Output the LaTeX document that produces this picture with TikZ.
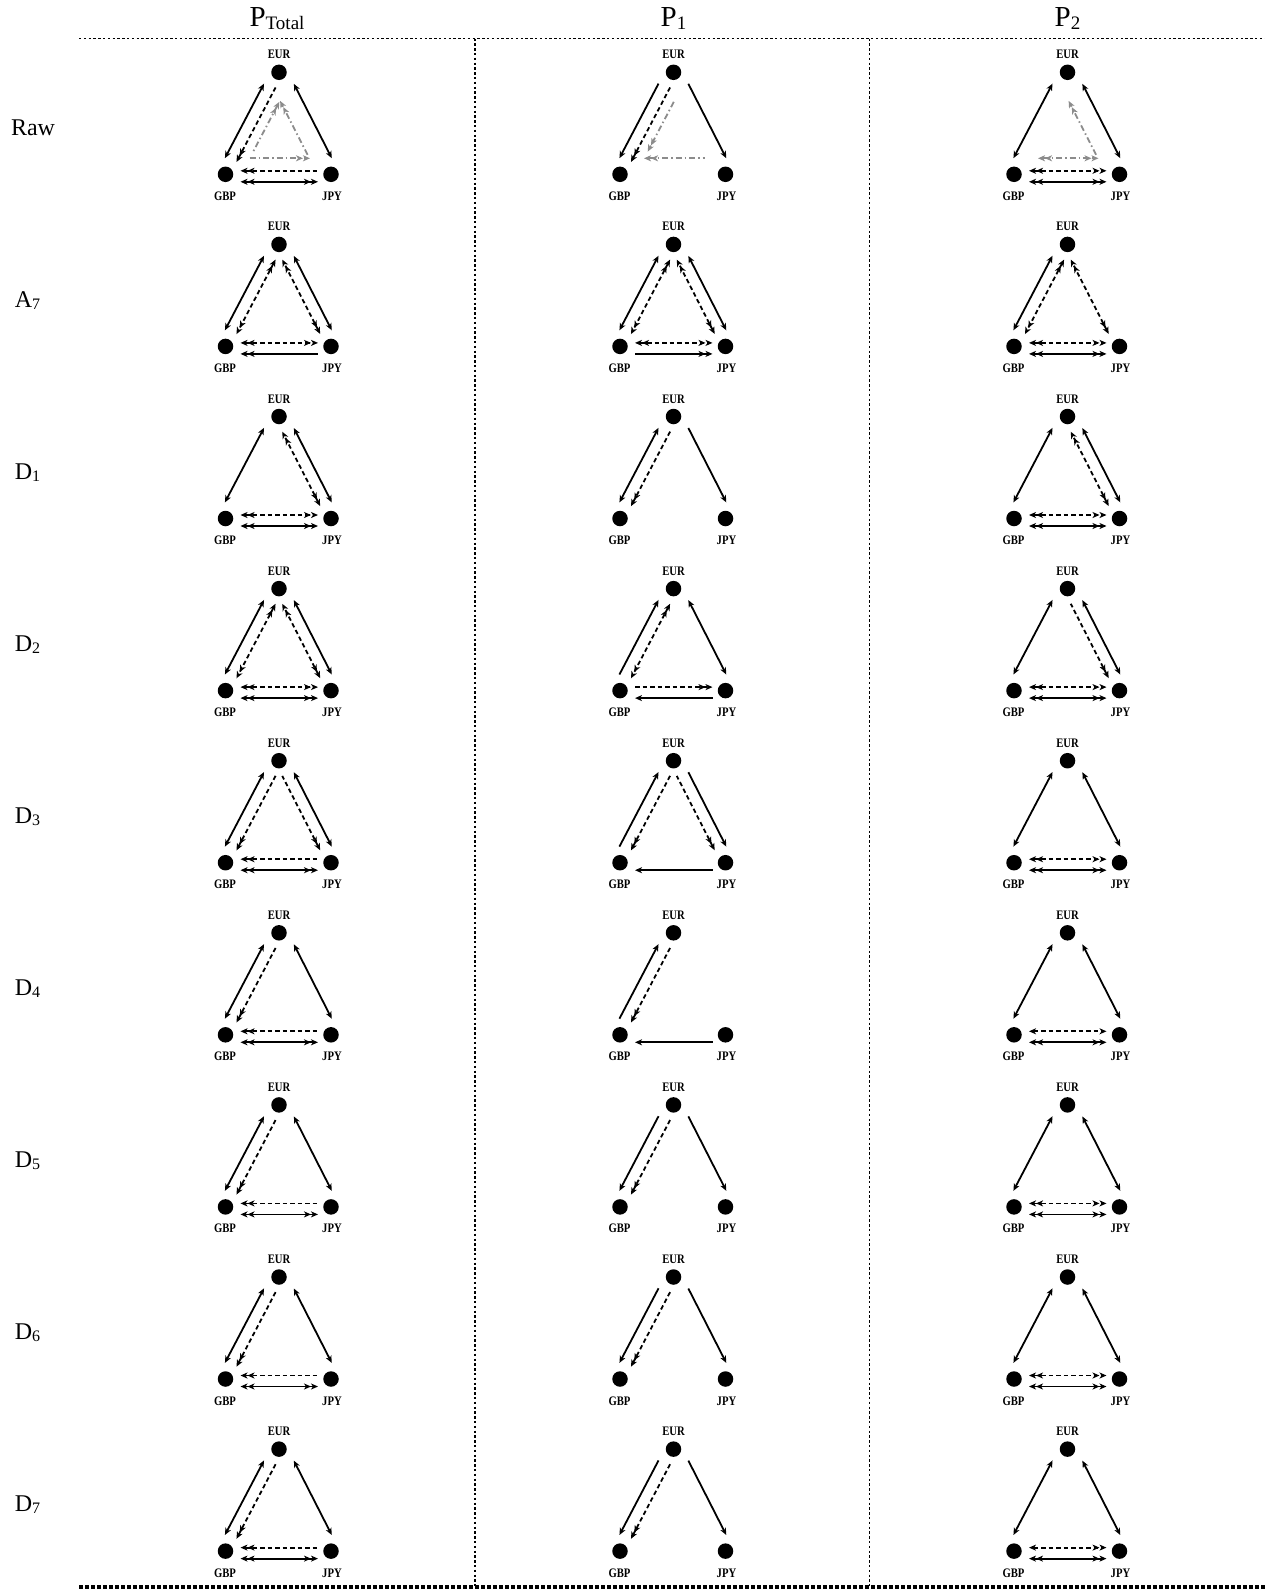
\documentclass[tikz,border=0pt]{standalone}
\usepackage{graphicx}
\usepackage{fontspec}
\setmainfont{Liberation Serif}
\usetikzlibrary{calc,arrows.meta}
\newcommand\cn[1]{\scalebox{0.82}[1]{#1}}
\newcommand\rsub[1]{\raisebox{-2pt}{\fontsize{16}{16}\selectfont #1}}
\newcommand\hsub[1]{\raisebox{-3pt}{\fontsize{19}{19}\selectfont #1}}
\tikzset{
  x=1pt,y=-1pt,
  cur/.style={circle,fill=black,inner sep=0pt,minimum size=15.5pt},
  lab/.style={inner sep=0pt,anchor=base,font=\bfseries\fontsize{13}{13}\selectfont},
  rowlab/.style={inner sep=0pt,anchor=base,font=\fontsize{24}{26}\selectfont},
  hdr/.style={inner sep=0pt,anchor=base,font=\fontsize{29}{31}\selectfont},
  sol/.style={line width=1.8pt},
  dsh/.style={line width=1.8pt,dash pattern=on 4.5pt off 3pt},
  gry/.style={line width=1.8pt,color=black!45,dash pattern=on 6pt off 3pt on 1.5pt off 3pt},
  divline/.style={line width=1.3pt,dash pattern=on 2.4pt off 2.4pt},
  divbold/.style={line width=3.4pt,dash pattern=on 3.5pt off 2.5pt},
  >={Stealth[length=7pt,width=6pt,inset=2pt]},
}
\newcommand\panel[3]{%
  \node[cur] (E#1) at (#2,#3) {};
  \node[cur] (G#1) at ({#2-53.5},{#3+102}) {};
  \node[cur] (J#1) at ({#2+52},{#3+102}) {};
  \node[lab] (tE#1) at ({#2},{#3-13.5}) {\cn{EUR}};
  \node[lab] (tG#1) at ({#2-54},{#3+128}) {\cn{GBP}};
  \node[lab] (tJ#1) at ({#2+53},{#3+128}) {\cn{JPY}};
}
\newcommand\Lsol[2]{\draw[sol,#2] ($(E#1)!17pt!(G#1)!8pt!-90:(G#1)$) -- ($(G#1)!14pt!(E#1)!8pt!90:(E#1)$);}
\newcommand\Ldsh[2]{\draw[dsh,#2] ($(E#1)!15pt!(G#1)!4pt!90:(G#1)$) -- ($(G#1)!16pt!(E#1)!4pt!-90:(E#1)$);}
\newcommand\Lgry[2]{\draw[gry,#2] ($(E#1)!26pt!(G#1)!14pt!90:(G#1)$) -- ($(G#1)!33pt!(E#1)!14pt!-90:(E#1)$);}
\newcommand\Rsol[2]{\draw[sol,#2] ($(J#1)!14pt!(E#1)!8pt!-90:(E#1)$) -- ($(E#1)!17pt!(J#1)!8pt!90:(J#1)$);}
\newcommand\Rdsh[2]{\draw[dsh,#2] ($(J#1)!16pt!(E#1)!4pt!90:(E#1)$) -- ($(E#1)!15pt!(J#1)!4pt!-90:(J#1)$);}
\newcommand\Rgry[2]{\draw[gry,#2] ($(J#1)!28pt!(E#1)!12pt!90:(E#1)$) -- ($(E#1)!26pt!(J#1)!12pt!-90:(J#1)$);}
\newcommand\Bsol[2]{\draw[sol,#2] ($(G#1)!15pt!(J#1)!7.5pt!-90:(J#1)$) -- ($(J#1)!13pt!(G#1)!7.5pt!90:(G#1)$);}
\newcommand\Bdsh[2]{\draw[dsh,#2] ($(G#1)!15pt!(J#1)!3.5pt!90:(J#1)$) -- ($(J#1)!13pt!(G#1)!3.5pt!-90:(G#1)$);}
\newcommand\Bgry[2]{\draw[gry,#2] ($(G#1)!24pt!(J#1)!16pt!90:(J#1)$) -- ($(J#1)!21pt!(G#1)!16pt!-90:(G#1)$);}
\begin{document}
\begin{tikzpicture}
\fill[white] (0,0) rectangle (1265,1590);
\useasboundingbox (0,0) rectangle (1265,1590);
% headers
\node[hdr] (h1) at (277,26.5) {P\hsub{Total}};
\node[hdr] (h2) at (673.5,26.5) {P\hsub{1}};
\node[hdr] (h3) at (1067.5,26.5) {P\hsub{2}};
% separators
\coordinate (ha) at (79,38.5); \coordinate (hb) at (1265,38.5);
\coordinate (va1) at (475,38.5); \coordinate (vb1) at (475,1586);
\coordinate (va2) at (869.5,38.5); \coordinate (vb2) at (869.5,1586);
\coordinate (ba) at (79,1587); \coordinate (bb) at (1265,1587);
\draw[divline] (ha) -- (hb);
\draw[divline] (va1) -- (vb1);
\draw[divline] (va2) -- (vb2);
\draw[divbold] (ba) -- (bb);
% row labels
\node[rowlab] (r1) at (33,135) {Raw};
\node[rowlab] (r2) at (27.5,307.1) {A\rsub{7}};
\node[rowlab] (r3) at (27.5,479.2) {D\rsub{1}};
\node[rowlab] (r4) at (27.5,651.3) {D\rsub{2}};
\node[rowlab] (r5) at (27.5,823.4) {D\rsub{3}};
\node[rowlab] (r6) at (27.5,995.5) {D\rsub{4}};
\node[rowlab] (r7) at (27.5,1167.6) {D\rsub{5}};
\node[rowlab] (r8) at (27.5,1339.7) {D\rsub{6}};
\node[rowlab] (r9) at (27.5,1511.8) {D\rsub{7}};
% panels
\foreach \r/\y in {1/72.3,2/244.4,3/416.5,4/588.6,5/760.7,6/932.8,7/1104.9,8/1277.0,9/1449.1}{
  \foreach \c/\x in {1/279,2/673.5,3/1067.5}{
    \panel{\r\c}{\x}{\y}
  }
}
% Raw
\Lsol{11}{<->}\Ldsh{11}{->>}\Rsol{11}{<->}\Bdsh{11}{<<-}\Bsol{11}{<<->>}
\Lgry{11}{<<-}\Rgry{11}{->>}\Bgry{11}{->>}
\Lsol{12}{->}\Ldsh{12}{->>}\Rsol{12}{<-}\Lgry{12}{->>}\Bgry{12}{<<-}
\Lsol{13}{<->}\Rsol{13}{<->}\Bdsh{13}{<<->>}\Bsol{13}{<<->>}\Rgry{13}{->>}\Bgry{13}{<<->>}
% A7
\Lsol{21}{<->}\Ldsh{21}{<<->>}\Rsol{21}{<->}\Rdsh{21}{<<->>}\Bdsh{21}{<<->>}\Bsol{21}{<<-}
\Lsol{22}{<->}\Ldsh{22}{<<->>}\Rsol{22}{<->}\Rdsh{22}{<<->>}\Bdsh{22}{<<->>}\Bsol{22}{->>}
\Lsol{23}{<->}\Ldsh{23}{<<->>}\Rdsh{23}{<<->>}\Bdsh{23}{<<->>}\Bsol{23}{<<->>}
% D1
\Lsol{31}{<->}\Rsol{31}{<->}\Rdsh{31}{<<->>}\Bdsh{31}{<<->>}\Bsol{31}{<<->>}
\Lsol{32}{<->}\Ldsh{32}{->>}\Rsol{32}{<-}
\Lsol{33}{<->}\Rsol{33}{<->}\Rdsh{33}{<<->>}\Bdsh{33}{<<->>}\Bsol{33}{<<->>}
% D2
\Lsol{41}{<->}\Ldsh{41}{<<->>}\Rsol{41}{<->}\Rdsh{41}{<<->>}\Bdsh{41}{<<->>}\Bsol{41}{<<->>}
\Lsol{42}{<-}\Ldsh{42}{<<->>}\Rsol{42}{<->}\Bdsh{42}{->>}\Bsol{42}{<-}
\Lsol{43}{<->}\Rsol{43}{<->}\Rdsh{43}{<<-}\Bdsh{43}{<<->>}\Bsol{43}{<<->>}
% D3
\Lsol{51}{<->}\Ldsh{51}{->>}\Rsol{51}{<->}\Rdsh{51}{<<-}\Bdsh{51}{<<-}\Bsol{51}{<<->>}
\Lsol{52}{<-}\Ldsh{52}{->>}\Rsol{52}{<-}\Rdsh{52}{<<-}\Bsol{52}{<-}
\Lsol{53}{<->}\Rsol{53}{<->}\Bdsh{53}{<<->>}\Bsol{53}{<<->>}
% D4
\Lsol{61}{<->}\Ldsh{61}{->>}\Rsol{61}{<->}\Bdsh{61}{<<-}\Bsol{61}{<<->>}
\Lsol{62}{<-}\Ldsh{62}{->>}\Bsol{62}{<-}
\Lsol{63}{<->}\Rsol{63}{<->}\Bdsh{63}{<->}\Bsol{63}{<<->>}
% D5
\Lsol{71}{<->}\Ldsh{71}{->>}\Rsol{71}{<->}\Bdsh{71}{<<-}\Bsol{71}{<<->>}
\Lsol{72}{->}\Ldsh{72}{->>}\Rsol{72}{<-}
\Lsol{73}{<->}\Rsol{73}{<->}\Bdsh{73}{<<->>}\Bsol{73}{<<->>}
% D6
\Lsol{81}{<->}\Ldsh{81}{->>}\Rsol{81}{<->}\Bdsh{81}{<<-}\Bsol{81}{<<->>}
\Lsol{82}{->}\Ldsh{82}{->>}\Rsol{82}{<-}
\Lsol{83}{<->}\Rsol{83}{<->}\Bdsh{83}{<<->>}\Bsol{83}{<<->>}
% D7
\Lsol{91}{<->}\Ldsh{91}{->>}\Rsol{91}{<->}\Bdsh{91}{<<-}\Bsol{91}{<<->>}
\Lsol{92}{->}\Ldsh{92}{->>}\Rsol{92}{<-}
\Lsol{93}{<->}\Rsol{93}{<->}\Bdsh{93}{<->>}\Bsol{93}{<<->>}
\end{tikzpicture}
\end{document}
